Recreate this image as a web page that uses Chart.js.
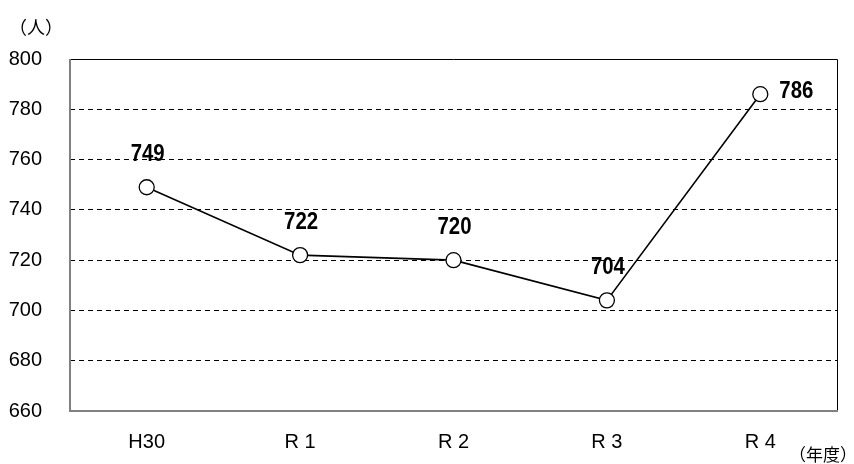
<!DOCTYPE html>
<html>
<head>
<meta charset="utf-8">
<script src="https://cdn.jsdelivr.net/npm/chart.js@4"></script>
<style>
  html, body { margin: 0; padding: 0; background: #fff; }
  #wrap { width: 854px; height: 464px; position: relative; }
</style>
</head>
<body>
<div id="wrap"><canvas id="chart" width="854" height="464"></canvas></div>
<script>
const categories = ['H30', 'R 1', 'R 2', 'R 3', 'R 4'];
const people = [749, 722, 720, 704, 786];
const yTicks = [660, 680, 700, 720, 740, 760, 780, 800];

const tickFont = { family: '"Liberation Sans", Arial, sans-serif', size: 20 };

// frame round the plot area: black top/right, grey left/bottom
const frame = {
  id: 'frame',
  beforeDatasetsDraw(chart) {
    const { ctx, chartArea: { top, bottom, left, right } } = chart;
    ctx.save();
    ctx.lineWidth = 1;
    ctx.strokeStyle = '#000';
    ctx.beginPath();
    ctx.moveTo(left, top + 0.5);
    ctx.lineTo(right + 0.5, top + 0.5);
    ctx.lineTo(right + 0.5, bottom);
    ctx.stroke();
    ctx.strokeStyle = '#808080';
    ctx.lineWidth = 2;
    ctx.beginPath();
    ctx.moveTo(left, top);
    ctx.lineTo(left, bottom);
    ctx.lineTo(right + 1, bottom);
    ctx.stroke();
    ctx.restore();
  }
};

const valueLabels = {
  id: 'valueLabels',
  afterDatasetsDraw(chart) {
    const { ctx } = chart;
    const meta = chart.getDatasetMeta(0);
    const sx = 0.85;
    ctx.save();
    ctx.font = 'bold 24px "Liberation Sans", Arial, sans-serif';
    ctx.fillStyle = '#000';
    ctx.textBaseline = 'middle';
    meta.data.forEach((pt, i) => {
      const text = String(people[i]);
      const last = i === meta.data.length - 1;
      const x = last ? pt.x + 19 : pt.x + 1;
      const y = last ? pt.y - 3 : pt.y - 33;
      ctx.save();
      ctx.translate(x, y);
      ctx.scale(sx, 1);
      ctx.textAlign = last ? 'left' : 'center';
      ctx.fillText(text, 0, 0);
      ctx.restore();
    });
    // unit labels
    ctx.font = '18px "Noto Sans CJK JP", sans-serif';
    ctx.textAlign = 'left';
    ctx.fillText('（人）', 9, 27);
    ctx.font = '17px "Noto Sans CJK JP", sans-serif';
    ctx.fillText('（年度）', 789, 455);
    ctx.restore();
  }
};

new Chart(document.getElementById('chart'), {
  type: 'line',
  data: {
    labels: categories,
    datasets: [{
      data: people,
      borderColor: '#000',
      borderWidth: 1.6,
      pointRadius: 7.5,
      pointHoverRadius: 7.5,
      pointBackgroundColor: '#fff',
      pointBorderColor: '#000',
      pointBorderWidth: 1.3,
      tension: 0
    }]
  },
  options: {
    responsive: false,
    animation: false,
    events: [],
    layout: { padding: { top: 59, right: 17, left: 0, bottom: 0 } },
    plugins: { legend: { display: false }, tooltip: { enabled: false } },
    scales: {
      x: {
        offset: true,
        grid: { display: false, drawTicks: false },
        border: { display: false },
        ticks: { color: '#000', font: tickFont, padding: 19 },
        afterFit(axis) { axis.height = 53; }
      },
      y: {
        min: 660,
        max: 800,
        afterBuildTicks(axis) { axis.ticks = yTicks.map(v => ({ value: v })); },
        grid: { color: '#000', lineWidth: 1, drawTicks: false },
        border: { display: false, dash: [5, 4] },
        ticks: { color: '#000', font: tickFont, padding: 28 },
        afterFit(axis) { axis.width = 70; }
      }
    }
  },
  plugins: [frame, valueLabels]
});
</script>
</body>
</html>
